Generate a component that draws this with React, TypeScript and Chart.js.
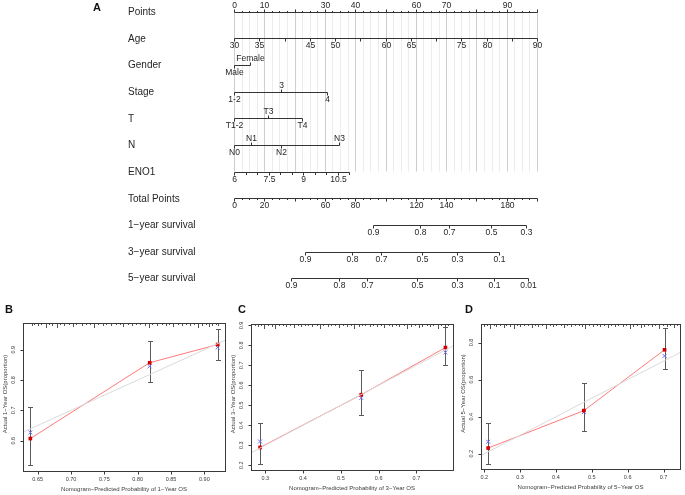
import React, { useEffect, useRef } from 'react';
import { Chart, registerables } from 'chart.js';

Chart.register(...registerables);

const FONT = '"Liberation Sans", Arial, Helvetica, sans-serif';
const INK = '#252525';

// ---------------- Panel A : nomogram ----------------
const rowNames = ['Points', 'Age', 'Gender', 'Stage', 'T', 'N', 'ENO1', 'Total Points', '1−year survival', '3−year survival', '5−year survival'];
const pointsLabels = [0, 10, 30, 40, 60, 70, 90];
const ageMin = 30;
const ageMax = 90;
const ageLabels = [30, 35, 45, 50, 60, 65, 75, 80, 90];
const genderLevels = ['Male', 'Female'];
const genderPoints = [0, 5.3];
const stageLevels = ['1-2', '3', '4'];
const stagePoints = [0, 15.4, 30.6];
const tLevels = ['T1-2', 'T3', 'T4'];
const tPoints = [0, 11.1, 22.6];
const nLevels = ['N0', 'N1', 'N2', 'N3'];
const nPoints = [0, 5.5, 15.4, 34.6];
const eno1Min = 6;
const eno1Max = 11;
const eno1MaxPoints = 38.1;
const eno1Labels = [6, 7.5, 9, 10.5];
const totalPointsLabels = [0, 20, 60, 80, 120, 140, 180];
const surv1Labels = ['0.9', '0.8', '0.7', '0.5', '0.3'];
const surv1Total = [91.9, 122.7, 141.8, 169.9, 193.0];
const surv3Labels = ['0.9', '0.8', '0.7', '0.5', '0.3', '0.1'];
const surv3Total = [46.8, 77.6, 97.1, 124.4, 146.9, 175.0];
const surv5Labels = ['0.9', '0.8', '0.7', '0.5', '0.3', '0.1', '0.01'];
const surv5Total = [37.6, 69.0, 87.5, 120.5, 146.9, 171.4, 194.1];

// ---------------- Panels B, C, D : calibration ----------------
const bPredicted = [0.639, 0.818, 0.920];
const bObserved = [0.607, 0.857, 0.917];
const bCorrected = [0.627, 0.845, 0.907];
const bLower = [0.519, 0.793, 0.867];
const bUpper = [0.710, 0.927, 0.969];
const bXTicks = [0.65, 0.7, 0.75, 0.8, 0.85, 0.9];
const bXTickLabels = ['0.65', '0.70', '0.75', '0.80', '0.85', '0.90'];
const bYTicks = [0.6, 0.7, 0.8, 0.9];
const bYTickLabels = ['0.6', '0.7', '0.8', '0.9'];
const bRug = [0.641, 0.645, 0.650, 0.655, 0.662, 0.667, 0.671, 0.679, 0.684, 0.690, 0.697, 0.703, 0.708, 0.716, 0.722, 0.729, 0.734, 0.741, 0.748, 0.753, 0.760, 0.767, 0.773, 0.778, 0.786, 0.792, 0.797, 0.804, 0.811, 0.817, 0.822, 0.829, 0.836, 0.842, 0.847, 0.853, 0.860, 0.866, 0.873, 0.879, 0.884, 0.890, 0.896, 0.902, 0.907, 0.912, 0.917, 0.921];
const bRugLen = [3, 2, 3, 2, 5, 2, 3, 5, 2, 3, 2, 4, 2, 3, 2, 2, 5, 2, 3, 2, 3, 2, 2, 4, 2, 3, 2, 2, 3, 5, 2, 3, 2, 3, 2, 4, 2, 3, 2, 3, 2, 5, 3, 2, 4, 3, 2, 3];

const cPredicted = [0.286, 0.554, 0.777];
const cObserved = [0.289, 0.553, 0.789];
const cCorrected = [0.319, 0.537, 0.765];
const cLower = [0.205, 0.452, 0.701];
const cUpper = [0.410, 0.676, 0.890];
const cXTicks = [0.3, 0.4, 0.5, 0.6, 0.7];
const cXTickLabels = ['0.3', '0.4', '0.5', '0.6', '0.7'];
const cYTicks = [0.2, 0.3, 0.4, 0.5, 0.6, 0.7, 0.8, 0.9];
const cYTickLabels = ['0.2', '0.3', '0.4', '0.5', '0.6', '0.7', '0.8', '0.9'];
const cRug = [0.272, 0.281, 0.289, 0.297, 0.306, 0.318, 0.326, 0.335, 0.347, 0.356, 0.364, 0.375, 0.386, 0.394, 0.405, 0.413, 0.424, 0.436, 0.445, 0.453, 0.466, 0.474, 0.485, 0.494, 0.506, 0.515, 0.526, 0.534, 0.547, 0.556, 0.565, 0.577, 0.586, 0.596, 0.607, 0.615, 0.627, 0.636, 0.647, 0.655, 0.667, 0.676, 0.686, 0.697, 0.706, 0.716, 0.727, 0.736, 0.745, 0.756, 0.766, 0.775, 0.784];
const cRugLen = [2, 3, 2, 5, 2, 3, 5, 2, 2, 3, 2, 4, 2, 3, 2, 2, 3, 2, 5, 2, 3, 2, 2, 4, 2, 3, 2, 5, 3, 2, 2, 3, 2, 3, 2, 4, 2, 3, 2, 3, 2, 5, 3, 2, 4, 3, 2, 3, 2, 5, 2, 3, 2];

const dPredicted = [0.211, 0.478, 0.703];
const dObserved = [0.231, 0.433, 0.761];
const dCorrected = [0.265, 0.425, 0.728];
const dLower = [0.146, 0.324, 0.658];
const dUpper = [0.365, 0.584, 0.880];
const dXTicks = [0.2, 0.3, 0.4, 0.5, 0.6, 0.7];
const dXTickLabels = ['0.2', '0.3', '0.4', '0.5', '0.6', '0.7'];
const dYTicks = [0.2, 0.4, 0.6, 0.8];
const dYTickLabels = ['0.2', '0.4', '0.6', '0.8'];
const dRug = [0.198, 0.207, 0.216, 0.226, 0.234, 0.245, 0.254, 0.262, 0.273, 0.284, 0.292, 0.301, 0.312, 0.321, 0.333, 0.342, 0.351, 0.362, 0.371, 0.383, 0.392, 0.401, 0.413, 0.422, 0.431, 0.443, 0.452, 0.463, 0.472, 0.481, 0.493, 0.502, 0.514, 0.523, 0.534, 0.545, 0.553, 0.565, 0.574, 0.586, 0.595, 0.606, 0.615, 0.626, 0.637, 0.646, 0.657, 0.668, 0.677, 0.688, 0.698, 0.709, 0.718, 0.729, 0.738];
const dRugLen = [3, 2, 5, 2, 3, 2, 4, 2, 3, 5, 2, 3, 2, 2, 4, 2, 3, 2, 5, 2, 3, 2, 2, 4, 2, 3, 2, 2, 3, 5, 2, 3, 2, 3, 2, 4, 2, 3, 2, 3, 2, 5, 3, 2, 4, 3, 2, 3, 2, 5, 2, 3, 2, 4, 2];

type Panel = {
  letter: string;
  predicted: number[]; observed: number[]; corrected: number[]; lower: number[]; upper: number[];
  xMin: number; xMax: number; yMin: number; yMax: number;
  xTicks: number[]; xTickLabels: string[]; yTicks: number[]; yTickLabels: string[];
  rug: number[]; rugLen: number[];
  xTitle: string; yTitle: string;
  left: number; pad: { left: number; top: number; right: number; bottom: number }; letterX: number;
};

const panels: Panel[] = [
  {
    letter: 'B', predicted: bPredicted, observed: bObserved, corrected: bCorrected, lower: bLower, upper: bUpper,
    xMin: 0.628, xMax: 0.931, yMin: 0.5, yMax: 0.988,
    xTicks: bXTicks, xTickLabels: bXTickLabels, yTicks: bYTicks, yTickLabels: bYTickLabels,
    rug: bRug, rugLen: bRugLen,
    xTitle: 'Nomogram−Predicted Probability of 1−Year OS', yTitle: 'Actual 1−Year OS(proportion)',
    left: 0, pad: { left: 23, top: 23, right: 3, bottom: 24 }, letterX: 5,
  },
  {
    letter: 'C', predicted: cPredicted, observed: cObserved, corrected: cCorrected, lower: cLower, upper: cUpper,
    xMin: 0.262, xMax: 0.797, yMin: 0.176, yMax: 0.907,
    xTicks: cXTicks, xTickLabels: cXTickLabels, yTicks: cYTicks, yTickLabels: cYTickLabels,
    rug: cRug, rugLen: cRugLen,
    xTitle: 'Nomogram−Predicted Probability of 3−Year OS', yTitle: 'Actual 3−Year OS(proportion)',
    left: 228, pad: { left: 23, top: 24, right: 2, bottom: 25 }, letterX: 10,
  },
  {
    letter: 'D', predicted: dPredicted, observed: dObserved, corrected: dCorrected, lower: dLower, upper: dUpper,
    xMin: 0.191, xMax: 0.746, yMin: 0.118, yMax: 0.9,
    xTicks: dXTicks, xTickLabels: dXTickLabels, yTicks: dYTicks, yTickLabels: dYTickLabels,
    rug: dRug, rugLen: dRugLen,
    xTitle: 'Nomogram−Predicted Probability of 5−Year OS', yTitle: 'Actual 5−Year OS(proportion)',
    left: 455, pad: { left: 26, top: 24, right: 1, bottom: 26 }, letterX: 10,
  },
];

const ROW_START = 11.7;
const ROW_GAP = 26.65;

function px(v: number) {
  return Math.round(v) + 0.5;
}

const nomogramPlugin = {
  id: 'nomogram',
  afterDraw(chart: any) {
    const ctx: CanvasRenderingContext2D = chart.ctx;
    const xs = chart.scales.x;
    const tps = chart.scales.tp;
    const ages = chart.scales.age;
    const ys = chart.scales.y;
    const rowY = (i: number) => px(ys.getPixelForValue(ROW_START + ROW_GAP * i));
    const ptX = (p: number) => px(xs.getPixelForValue(p));
    const tpX = (p: number) => px(tps.getPixelForValue(p));
    const enoX = (v: number) => ptX(((v - eno1Min) / (eno1Max - eno1Min)) * eno1MaxPoints);

    ctx.save();
    // grid
    const gTop = rowY(0);
    const gBottom = rowY(6) - 1;
    ctx.lineWidth = 1;
    for (let k = 0; k <= 40; k++) {
      const v = k * 2.5;
      ctx.strokeStyle = k % 4 === 0 ? '#cdcdcd' : '#ececec';
      ctx.beginPath();
      ctx.moveTo(ptX(v), gTop);
      ctx.lineTo(ptX(v), gBottom);
      ctx.stroke();
    }

    ctx.strokeStyle = '#333';
    ctx.fillStyle = INK;
    const hline = (x0: number, x1: number, y: number) => {
      ctx.beginPath(); ctx.moveTo(x0, y); ctx.lineTo(x1, y); ctx.stroke();
    };
    const tick = (x: number, y: number, len: number) => {
      ctx.beginPath(); ctx.moveTo(x, y); ctx.lineTo(x, y + len); ctx.stroke();
    };
    const label = (s: string, x: number, y: number) => {
      ctx.font = `8.5px ${FONT}`;
      ctx.textAlign = 'center';
      ctx.textBaseline = 'middle';
      ctx.fillText(s, x, y);
    };
    const ABOVE = -7;
    const BELOW = 7.5;

    // row names
    ctx.font = `10px ${FONT}`;
    ctx.textAlign = 'left';
    ctx.textBaseline = 'middle';
    rowNames.forEach((n, i) => ctx.fillText(n, 128, ROW_START + ROW_GAP * i + 0.5));

    // Points
    let y = rowY(0);
    hline(ptX(0), ptX(100), y);
    for (let k = 0; k <= 40; k++) tick(ptX(k * 2.5), y, k % 4 === 0 ? -3 : -1.5);
    pointsLabels.forEach((v) => label(String(v), ptX(v), y + ABOVE + 0.5));

    // Age
    y = rowY(1);
    const ageX = (a: number) => px(ages.getPixelForValue(a));
    hline(ageX(ageMin), ageX(ageMax), y);
    for (let a = ageMin; a <= ageMax; a += 5) tick(ageX(a), y, 3);
    ageLabels.forEach((a) => label(String(a), ageX(a), y + BELOW));

    // categorical rows
    const cat = (row: number, levels: string[], pts: number[]) => {
      const yy = rowY(row);
      hline(ptX(pts[0]), ptX(pts[pts.length - 1]), yy);
      levels.forEach((lv, i) => {
        const up = i % 2 === 1;
        tick(ptX(pts[i]), yy, up ? -3 : 3);
        label(lv, ptX(pts[i]), yy + (up ? ABOVE : BELOW));
      });
    };
    cat(2, genderLevels, genderPoints);
    cat(3, stageLevels, stagePoints);
    cat(4, tLevels, tPoints);
    cat(5, nLevels, nPoints);

    // ENO1
    y = rowY(6);
    hline(enoX(eno1Min), enoX(eno1Max), y);
    for (let v = eno1Min; v <= eno1Max + 1e-9; v += 0.5) tick(enoX(v), y, eno1Labels.includes(v) ? 3 : 2.5);
    eno1Labels.forEach((v) => label(String(v), enoX(v), y + BELOW));

    // Total points
    y = rowY(7);
    hline(tpX(0), tpX(200), y);
    for (let v = 0; v <= 200; v += 5) tick(tpX(v), y, v % 20 === 0 ? 3 : 1.5);
    totalPointsLabels.forEach((v) => label(String(v), tpX(v), y + BELOW));

    // survival rows
    const surv = (row: number, labs: string[], tot: number[]) => {
      const yy = rowY(row);
      hline(tpX(tot[0]), tpX(tot[tot.length - 1]), yy);
      tot.forEach((t, i) => {
        tick(tpX(t), yy, 3);
        label(labs[i], tpX(t), yy + BELOW);
      });
    };
    surv(8, surv1Labels, surv1Total);
    surv(9, surv3Labels, surv3Total);
    surv(10, surv5Labels, surv5Total);

    // panel letter
    ctx.font = `bold 11px ${FONT}`;
    ctx.textAlign = 'left';
    ctx.fillStyle = '#111';
    ctx.fillText('A', 93, 8);
    ctx.restore();
  },
};

function makeCalibPlugin(p: Panel) {
  return {
    id: 'calib' + p.letter,
    beforeDatasetsDraw(chart: any) {
      const ctx: CanvasRenderingContext2D = chart.ctx;
      const xs = chart.scales.x;
      const ys = chart.scales.y;
      ctx.save();
      ctx.strokeStyle = '#5a5a5a';
      ctx.lineWidth = 1;
      p.predicted.forEach((xv, i) => {
        const x = px(xs.getPixelForValue(xv));
        const y0 = px(ys.getPixelForValue(p.lower[i]));
        const y1 = px(ys.getPixelForValue(p.upper[i]));
        ctx.beginPath();
        ctx.moveTo(x, y0); ctx.lineTo(x, y1);
        ctx.moveTo(x - 2.5, y0); ctx.lineTo(x + 2.5, y0);
        ctx.moveTo(x - 2.5, y1); ctx.lineTo(x + 2.5, y1);
        ctx.stroke();
      });
      ctx.restore();
    },
    afterDraw(chart: any) {
      const ctx: CanvasRenderingContext2D = chart.ctx;
      const a = chart.chartArea;
      const xs = chart.scales.x;
      const ys = chart.scales.y;
      ctx.save();
      ctx.lineWidth = 1;
      // rug
      ctx.strokeStyle = '#555';
      ctx.beginPath();
      p.rug.forEach((v, i) => {
        const x = px(xs.getPixelForValue(v));
        ctx.moveTo(x, a.top);
        ctx.lineTo(x, a.top + p.rugLen[i]);
      });
      ctx.stroke();
      // box
      ctx.strokeStyle = '#3a3a3a';
      const L = px(a.left), R = px(a.right), T = px(a.top), B = px(a.bottom);
      ctx.strokeRect(L, T, R - L, B - T);
      // ticks
      ctx.beginPath();
      p.xTicks.forEach((v) => {
        const x = px(xs.getPixelForValue(v));
        ctx.moveTo(x, B); ctx.lineTo(x, B + 3);
      });
      p.yTicks.forEach((v) => {
        const y = px(ys.getPixelForValue(v));
        ctx.moveTo(L, y); ctx.lineTo(L - 3, y);
      });
      ctx.stroke();
      // tick labels
      ctx.fillStyle = '#3a3a3a';
      ctx.font = `5.5px ${FONT}`;
      ctx.textAlign = 'center';
      ctx.textBaseline = 'middle';
      p.xTicks.forEach((v, i) => ctx.fillText(p.xTickLabels[i], xs.getPixelForValue(v), a.bottom + 8.5));
      p.yTicks.forEach((v, i) => {
        ctx.save();
        ctx.translate(a.left - 10, ys.getPixelForValue(v));
        ctx.rotate(-Math.PI / 2);
        ctx.fillText(p.yTickLabels[i], 0, 0);
        ctx.restore();
      });
      // titles
      ctx.font = `6px ${FONT}`;
      ctx.fillText(p.xTitle, (a.left + a.right) / 2, a.bottom + 18.5);
      ctx.save();
      ctx.translate(a.left - 18, (a.top + a.bottom) / 2 - 3);
      ctx.rotate(-Math.PI / 2);
      ctx.fillText(p.yTitle, 0, 0);
      ctx.restore();
      // letter
      ctx.fillStyle = '#111';
      ctx.font = `bold 11px ${FONT}`;
      ctx.textAlign = 'left';
      ctx.fillText(p.letter, p.letterX, 10);
      ctx.restore();
    },
  };
}

function makeNomogram(canvas: HTMLCanvasElement) {
  return new Chart(canvas, {
    type: 'scatter',
    data: { datasets: [] },
    options: {
      responsive: false,
      animation: false,
      devicePixelRatio: 1,
      events: [],
      layout: { padding: { left: 234, right: 148, top: 0, bottom: 0 } },
      plugins: { legend: { display: false }, tooltip: { enabled: false } },
      scales: {
        x: { type: 'linear', min: 0, max: 100, display: false },
        tp: { type: 'linear', axis: 'x', position: 'bottom', min: 0, max: 200, display: false },
        age: { type: 'linear', axis: 'x', position: 'bottom', min: ageMin, max: ageMax, display: false },
        y: { type: 'linear', min: 0, max: 300, reverse: true, display: false },
      },
    } as any,
    plugins: [nomogramPlugin as any],
  });
}

function makeCalibration(canvas: HTMLCanvasElement, p: Panel) {
  return new Chart(canvas, {
    type: 'scatter',
    data: {
      datasets: [
        {
          data: [{ x: p.xMin, y: p.xMin }, { x: p.xMax, y: p.xMax }],
          showLine: true, borderColor: '#dadada', borderWidth: 1, pointRadius: 0,
        },
        {
          data: p.predicted.map((x, i) => ({ x, y: p.observed[i] })),
          showLine: true, borderColor: '#ff7a7a', borderWidth: 1,
          pointStyle: 'rect', pointRadius: 2.6, pointBackgroundColor: '#d10000', pointBorderWidth: 0,
        },
        {
          data: p.predicted.map((x, i) => ({ x, y: p.corrected[i] })),
          showLine: false, pointStyle: 'crossRot', pointRadius: 2.8,
          pointBorderColor: '#6f6ff5', pointBackgroundColor: '#6f6ff5', pointBorderWidth: 1,
        },
      ],
    },
    options: {
      responsive: false,
      animation: false,
      devicePixelRatio: 1,
      events: [],
      layout: { padding: p.pad },
      plugins: { legend: { display: false }, tooltip: { enabled: false } },
      scales: {
        x: { type: 'linear', min: p.xMin, max: p.xMax, display: false },
        y: { type: 'linear', min: p.yMin, max: p.yMax, display: false },
      },
    } as any,
    plugins: [makeCalibPlugin(p) as any],
  });
}

export default function App() {
  const nomoRef = useRef<HTMLCanvasElement>(null);
  const refB = useRef<HTMLCanvasElement>(null);
  const refC = useRef<HTMLCanvasElement>(null);
  const refD = useRef<HTMLCanvasElement>(null);

  useEffect(() => {
    const charts: Chart[] = [];
    if (nomoRef.current) charts.push(makeNomogram(nomoRef.current));
    [refB, refC, refD].forEach((r, i) => {
      if (r.current) charts.push(makeCalibration(r.current, panels[i]));
    });
    return () => charts.forEach((c) => c.destroy());
  }, []);

  const cs = (left: number, top: number, w: number, h: number): React.CSSProperties => ({
    position: 'absolute', left, top, width: w, height: h, display: 'block',
  });

  return (
    <div style={{ position: 'absolute', left: 0, top: 0, width: 685, height: 495, background: '#fff', overflow: 'hidden' }}>
      <canvas ref={nomoRef} width={685} height={300} style={cs(0, 0, 685, 300)} />
      <canvas ref={refB} width={230} height={195} style={cs(panels[0].left, 300, 230, 195)} />
      <canvas ref={refC} width={230} height={195} style={cs(panels[1].left, 300, 230, 195)} />
      <canvas ref={refD} width={230} height={195} style={cs(panels[2].left, 300, 230, 195)} />
    </div>
  );
}
